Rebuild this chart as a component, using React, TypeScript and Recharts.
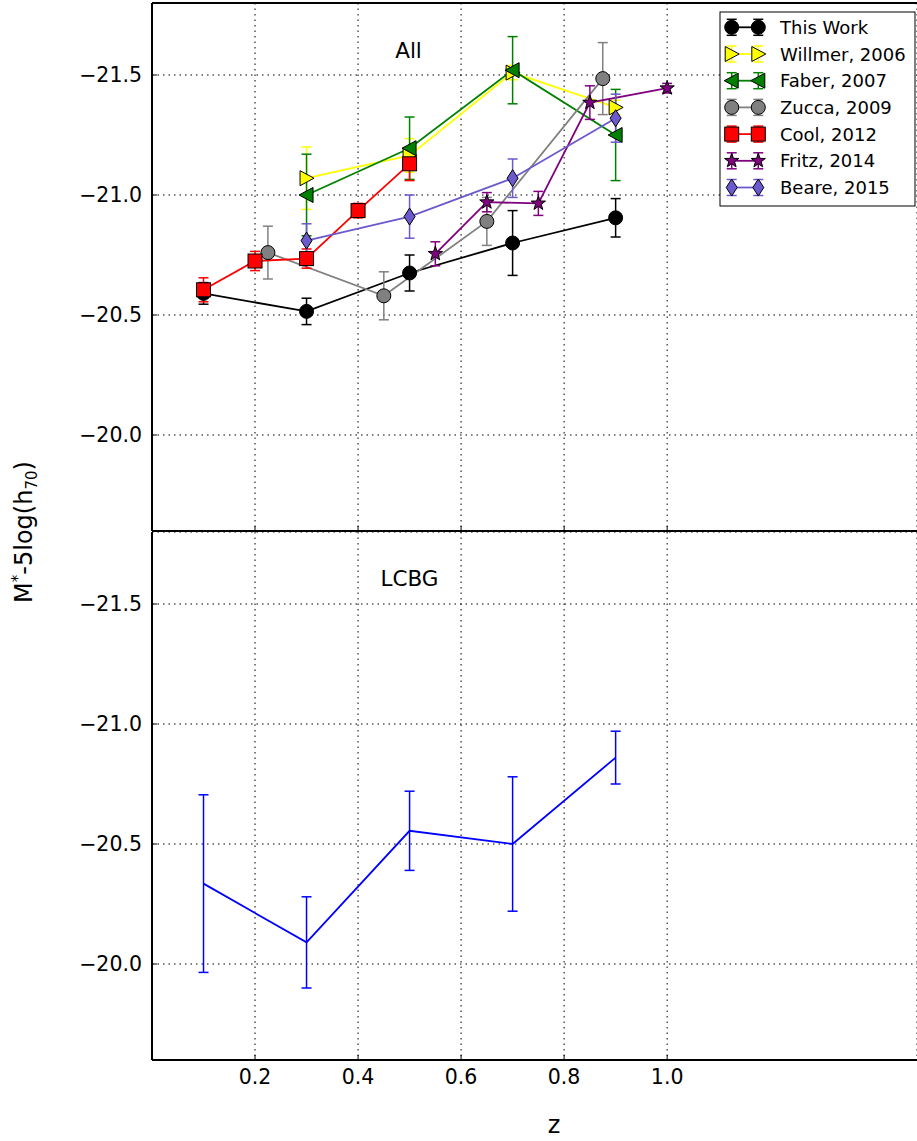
import React from "react";
import {
  LineChart,
  Line,
  XAxis,
  YAxis,
  CartesianGrid,
  ErrorBar,
  ReferenceLine,
} from "recharts";

const FONT = "'DejaVu Sans', sans-serif";

const xTicks = [0.2, 0.4, 0.6, 0.8, 1.0];
const yTicks = [-21.5, -21.0, -20.5, -20.0];
const xDomain = [0, 1.485];
const yDomain = [-21.8, -19.6];

// top panel: all galaxies
const thisWorkZ = [0.1, 0.3, 0.5, 0.7, 0.9];
const thisWorkM = [-20.59, -20.515, -20.675, -20.8, -20.905];
const thisWorkErr = [0.045, 0.055, 0.075, 0.135, 0.08];

const willmerZ = [0.3, 0.5, 0.7, 0.9];
const willmerM = [-21.07, -21.165, -21.51, -21.365];
const willmerErr = [0.13, 0.07, 0.03, 0.03];

const faberZ = [0.3, 0.5, 0.7, 0.9];
const faberM = [-21.0, -21.195, -21.52, -21.25];
const faberErr = [0.17, 0.13, 0.14, 0.19];

const zuccaZ = [0.225, 0.45, 0.65, 0.875];
const zuccaM = [-20.76, -20.58, -20.89, -21.485];
const zuccaErr = [0.11, 0.1, 0.1, 0.15];

const coolZ = [0.1, 0.2, 0.3, 0.4, 0.5];
const coolM = [-20.605, -20.725, -20.735, -20.935, -21.13];
const coolErr = [0.05, 0.04, 0.04, 0.03, 0.07];

const fritzZ = [0.55, 0.65, 0.75, 0.85, 1.0];
const fritzM = [-20.755, -20.97, -20.965, -21.385, -21.445];
const fritzErr = [0.05, 0.04, 0.05, 0.07, 0.02];

const beareZ = [0.3, 0.5, 0.7, 0.9];
const beareM = [-20.81, -20.91, -21.07, -21.32];
const beareErr = [0.07, 0.09, 0.08, 0.1];

// bottom panel: LCBGs
const lcbgZ = [0.1, 0.3, 0.5, 0.7, 0.9];
const lcbgM = [-20.335, -20.09, -20.555, -20.5, -20.86];
const lcbgErr = [0.37, 0.19, 0.165, 0.28, 0.11];

type Shape = "circle" | "triR" | "triL" | "square" | "star" | "diamond";

interface Series {
  name: string;
  color: string;
  shape: Shape;
  z: number[];
  m: number[];
  err: number[];
}

const allSeries: Series[] = [
  { name: "This Work", color: "#000000", shape: "circle", z: thisWorkZ, m: thisWorkM, err: thisWorkErr },
  { name: "Willmer, 2006", color: "#ffff00", shape: "triR", z: willmerZ, m: willmerM, err: willmerErr },
  { name: "Faber, 2007", color: "#008000", shape: "triL", z: faberZ, m: faberM, err: faberErr },
  { name: "Zucca, 2009", color: "#808080", shape: "circle", z: zuccaZ, m: zuccaM, err: zuccaErr },
  { name: "Cool, 2012", color: "#ff0000", shape: "square", z: coolZ, m: coolM, err: coolErr },
  { name: "Fritz, 2014", color: "#800080", shape: "star", z: fritzZ, m: fritzM, err: fritzErr },
  { name: "Beare, 2015", color: "#6a5acd", shape: "diamond", z: beareZ, m: beareM, err: beareErr },
];

const toRows = (z: number[], m: number[], err: number[]) =>
  z.map((v, i) => ({ z: v, m: m[i], err: err[i] }));

const fmtY = (v: number) => (v < 0 ? "\u2212" : "") + Math.abs(v).toFixed(1);

function Marker({ shape, cx, cy, fill }: { shape: Shape; cx: number; cy: number; fill: string }) {
  const st = { fill, stroke: "#000", strokeWidth: 1 };
  switch (shape) {
    case "circle":
      return <circle cx={cx} cy={cy} r={7} {...st} />;
    case "square":
      return <rect x={cx - 7} y={cy - 7} width={14} height={14} {...st} />;
    case "triR":
      return <polygon points={`${cx - 6.5},${cy - 7.5} ${cx + 7.5},${cy} ${cx - 6.5},${cy + 7.5}`} {...st} />;
    case "triL":
      return <polygon points={`${cx + 6.5},${cy - 7.5} ${cx - 7.5},${cy} ${cx + 6.5},${cy + 7.5}`} {...st} />;
    case "diamond":
      return <polygon points={`${cx},${cy - 8.5} ${cx + 5.5},${cy} ${cx},${cy + 8.5} ${cx - 5.5},${cy}`} {...st} />;
    case "star": {
      const pts: string[] = [];
      for (let k = 0; k < 10; k++) {
        const r = k % 2 === 0 ? 7.5 : 3;
        const a = -Math.PI / 2 + (k * Math.PI) / 5;
        pts.push(`${cx + r * Math.cos(a)},${cy + r * Math.sin(a)}`);
      }
      return <polygon points={pts.join(" ")} {...st} />;
    }
  }
  return null;
}

const YTick = (p: any) => {
  const { x, y, payload } = p;
  return (
    <g>
      <line x1={x + 10} x2={x + 15} y1={y} y2={y} stroke="#000" strokeWidth={1} />
      <text x={x} y={y} dy="0.36em" textAnchor="end" fontSize={20.5} fontFamily={FONT} fill="#000">
        {fmtY(payload.value)}
      </text>
    </g>
  );
};

const XTick = (p: any) => {
  const { x, y, payload } = p;
  return (
    <g>
      <line x1={x} x2={x} y1={y - 9} y2={y - 14} stroke="#000" strokeWidth={1} />
      <text x={x} y={y} dy="0.71em" textAnchor="middle" fontSize={20.5} fontFamily={FONT} fill="#000">
        {Number(payload.value).toFixed(1)}
      </text>
    </g>
  );
};

const XTickInner = (p: any) => {
  const { x, y } = p;
  return <line x1={x} x2={x} y1={y} y2={y - 5} stroke="#000" strokeWidth={1} />;
};

const grid = <CartesianGrid stroke="#000" strokeDasharray="1.5 4" strokeWidth={1} />;

function yAxis() {
  return (
    <YAxis
      type="number"
      domain={yDomain}
      reversed
      allowDataOverflow
      ticks={yTicks}
      width={152}
      tickSize={0}
      tickMargin={10}
      tick={YTick}
      axisLine={{ stroke: "#000", strokeWidth: 2 }}
      tickLine={false}
    />
  );
}

function Legend() {
  const x0 = 720;
  const y0 = 12;
  return (
    <g>
      <rect x={x0} y={y0} width={195} height={194} fill="#fff" stroke="#000" strokeWidth={1} />
      {allSeries.map((s, i) => {
        const cy = 27.3 + i * 26.7;
        const xa = 731.7;
        const xb = 758.3;
        return (
          <g key={s.name}>
            <line x1={xa} x2={xb} y1={cy} y2={cy} stroke={s.color} strokeWidth={1.8} />
            {[xa, xb].map((xx) => (
              <g key={xx}>
                <line x1={xx} x2={xx} y1={cy - 8} y2={cy + 8} stroke={s.color} strokeWidth={1.5} />
                <line x1={xx - 5} x2={xx + 5} y1={cy - 8} y2={cy - 8} stroke={s.color} strokeWidth={1.5} />
                <line x1={xx - 5} x2={xx + 5} y1={cy + 8} y2={cy + 8} stroke={s.color} strokeWidth={1.5} />
                <Marker shape={s.shape} cx={xx} cy={cy} fill={s.color} />
              </g>
            ))}
            <text x={780} y={cy + 6.5} fontSize={18} fontFamily={FONT} fill="#000">
              {s.name}
            </text>
          </g>
        );
      })}
    </g>
  );
}

export default function App() {
  return (
    <div
      style={{
        position: "absolute",
        left: 0,
        top: 0,
        width: 917,
        height: 1141,
        overflow: "hidden",
        background: "#fff",
      }}
    >
      <div style={{ position: "absolute", left: 0, top: 0 }}>
        <LineChart width={917} height={532} margin={{ top: 3, right: 0, bottom: 0, left: 0 }}>
          {grid}
          <XAxis
            type="number"
            dataKey="z"
            domain={xDomain}
            allowDataOverflow
            ticks={xTicks}
            height={1}
            tickSize={0}
            tickMargin={0}
            tick={XTickInner}
            axisLine={{ stroke: "#000", strokeWidth: 2 }}
            tickLine={false}
          />
          {yAxis()}
          <ReferenceLine y={-21.8} stroke="#000" strokeWidth={2} />
          {allSeries.map((s) => (
            <Line
              key={s.name}
              data={toRows(s.z, s.m, s.err)}
              dataKey="m"
              name={s.name}
              type="linear"
              stroke={s.color}
              strokeWidth={1.8}
              isAnimationActive={false}
              dot={(p: any) => (
                <Marker key={`${s.name}-${p.index}`} shape={s.shape} cx={p.cx} cy={p.cy} fill={s.color} />
              )}
              activeDot={false}
            >
              <ErrorBar dataKey="err" direction="y" width={5} stroke={s.color} strokeWidth={1.5} isAnimationActive={false} />
            </Line>
          ))}
        </LineChart>
      </div>
      <div style={{ position: "absolute", left: 0, top: 532 }}>
        <LineChart width={917} height={609} margin={{ top: 0, right: 0, bottom: 0, left: 0 }}>
          {grid}
          <XAxis
            type="number"
            dataKey="z"
            domain={xDomain}
            allowDataOverflow
            ticks={xTicks}
            height={81}
            tickSize={0}
            tickMargin={9}
            tick={XTick}
            axisLine={{ stroke: "#000", strokeWidth: 2 }}
            tickLine={false}
          />
          {yAxis()}
          <Line
            data={toRows(lcbgZ, lcbgM, lcbgErr)}
            dataKey="m"
            name="LCBG"
            type="linear"
            stroke="#0000ff"
            strokeWidth={1.8}
            isAnimationActive={false}
            dot={false}
            activeDot={false}
          >
            <ErrorBar dataKey="err" direction="y" width={5} stroke="#0000ff" strokeWidth={1.5} isAnimationActive={false} />
          </Line>
        </LineChart>
      </div>
      <svg
        width={917}
        height={1141}
        style={{ position: "absolute", left: 0, top: 0, pointerEvents: "none" }}
      >
        <text x={408.5} y={58} textAnchor="middle" fontSize={21.5} fontFamily={FONT}>
          All
        </text>
        <text x={409.5} y={586} textAnchor="middle" fontSize={21.5} fontFamily={FONT}>
          LCBG
        </text>
        <text x={554} y={1133} textAnchor="middle" fontSize={24} fontFamily={FONT}>
          z
        </text>
        <text transform="translate(32,532) rotate(-90)" textAnchor="middle" fontSize={24} fontFamily={FONT}>
          M
          <tspan fontSize={15} dy={-9}>*</tspan>
          <tspan dy={9}>-5log(h</tspan>
          <tspan fontSize={15} dy={5}>70</tspan>
          <tspan dy={-5}>)</tspan>
        </text>
        <Legend />
      </svg>
    </div>
  );
}
